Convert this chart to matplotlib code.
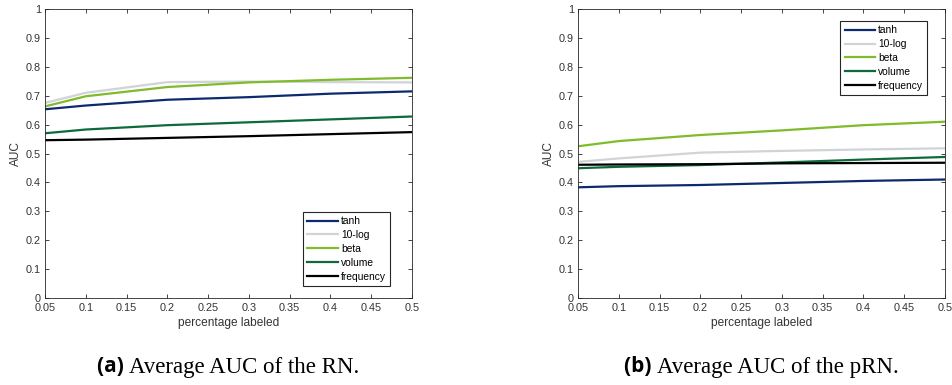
import matplotlib.pyplot as plt

# percentage labeled
pct = [0.05, 0.1, 0.2, 0.3, 0.4, 0.5]
series_names = ["tanh", "10-log", "beta", "volume", "frequency"]

# (a) RN
rn_tanh = [0.653, 0.666, 0.686, 0.695, 0.707, 0.715]
rn_log = [0.675, 0.710, 0.747, 0.749, 0.747, 0.746]
rn_beta = [0.663, 0.698, 0.730, 0.746, 0.755, 0.762]
rn_volume = [0.570, 0.583, 0.598, 0.608, 0.618, 0.628]
rn_freq = [0.546, 0.548, 0.554, 0.560, 0.567, 0.574]

# (b) pRN
prn_tanh = [0.383, 0.387, 0.391, 0.398, 0.405, 0.410]
prn_log = [0.471, 0.483, 0.503, 0.509, 0.514, 0.518]
prn_beta = [0.525, 0.543, 0.564, 0.580, 0.598, 0.610]
prn_volume = [0.449, 0.454, 0.460, 0.469, 0.479, 0.488]
prn_freq = [0.461, 0.462, 0.463, 0.466, 0.467, 0.468]

xticks = [0.05, 0.1, 0.15, 0.2, 0.25, 0.3, 0.35, 0.4, 0.45, 0.5]
xticklabels = ["0.05", "0.1", "0.15", "0.2", "0.25", "0.3", "0.35", "0.4", "0.45", "0.5"]
yticks = [0, 0.1, 0.2, 0.3, 0.4, 0.5, 0.6, 0.7, 0.8, 0.9, 1]
yticklabels = ["0", "0.1", "0.2", "0.3", "0.4", "0.5", "0.6", "0.7", "0.8", "0.9", "1"]

colors = ["#0d2a6e", "#d0d3d7", "#7fbb2a", "#0e6a3a", "#000000"]
captions = [("(a)", "Average AUC of the RN."), ("(b)", "Average AUC of the pRN.")]

W, H = 953, 385
fig = plt.figure(figsize=(W / 100, H / 100), dpi=100)
ax_rects = [
    [45 / W, 1 - 298 / H, 367 / W, 289 / H],
    [578 / W, 1 - 298 / H, 367 / W, 289 / H],
]
panels = [
    [rn_tanh, rn_log, rn_beta, rn_volume, rn_freq],
    [prn_tanh, prn_log, prn_beta, prn_volume, prn_freq],
]
legend_pos = [("lower right", (0.94, 0.042)), ("upper right", (0.951, 0.958))]

tick_font = dict(family="Liberation Sans", size=7.8, color="#333333")
label_font = dict(family="Liberation Sans", size=8.6, color="#333333")

renderer = fig.canvas.get_renderer()

for i, (rect, data) in enumerate(zip(ax_rects, panels)):
    ax = fig.add_axes(rect)
    for vals, name, c in zip(data, series_names, colors):
        ax.plot(pct, vals, color=c, lw=1.6, label=name)
    ax.set_xlim(0.05, 0.5)
    ax.set_ylim(0, 1)
    ax.set_xticks(xticks)
    ax.set_xticklabels(xticklabels, fontdict=tick_font)
    ax.set_yticks(yticks)
    ax.set_yticklabels(yticklabels, fontdict=tick_font)
    ax.tick_params(direction="in", length=3, width=0.6, top=True, right=True,
                   color="#262626")
    ax.tick_params(axis="x", pad=3.5)
    ax.tick_params(axis="y", pad=3)
    for s in ax.spines.values():
        s.set_linewidth(0.6)
        s.set_color("#262626")
    ax.set_xlabel("percentage labeled", fontdict=label_font, labelpad=3)
    ax.set_ylabel("AUC", fontdict=label_font, labelpad=3)
    loc, bbox = legend_pos[i]
    leg = ax.legend(loc=loc, bbox_to_anchor=bbox, fancybox=False, framealpha=1,
                    edgecolor="#262626", prop=dict(family="Liberation Sans", size=7.4),
                    handlelength=3.0, handletextpad=0.25, labelspacing=0.38,
                    borderpad=0.4, borderaxespad=0)
    leg.get_frame().set_linewidth(0.8)

    # caption: bold tag + serif text, centred under the axes
    bold, rest = captions[i]
    cy = 1 - 367 / H
    t1 = fig.text(0, cy, bold + " ", ha="left", va="center",
                  family="Open Sans", size=15, weight="bold")
    t2 = fig.text(0, cy, rest, ha="left", va="center",
                  family="Liberation Serif", size=16.5)
    w1 = t1.get_window_extent(renderer).width
    w2 = t2.get_window_extent(renderer).width
    cx = (rect[0] + rect[2] / 2) * W
    x0 = cx - (w1 + w2) / 2
    t1.set_x(x0 / W)
    t2.set_x((x0 + w1) / W)

fig.savefig("out.png", dpi=100)
